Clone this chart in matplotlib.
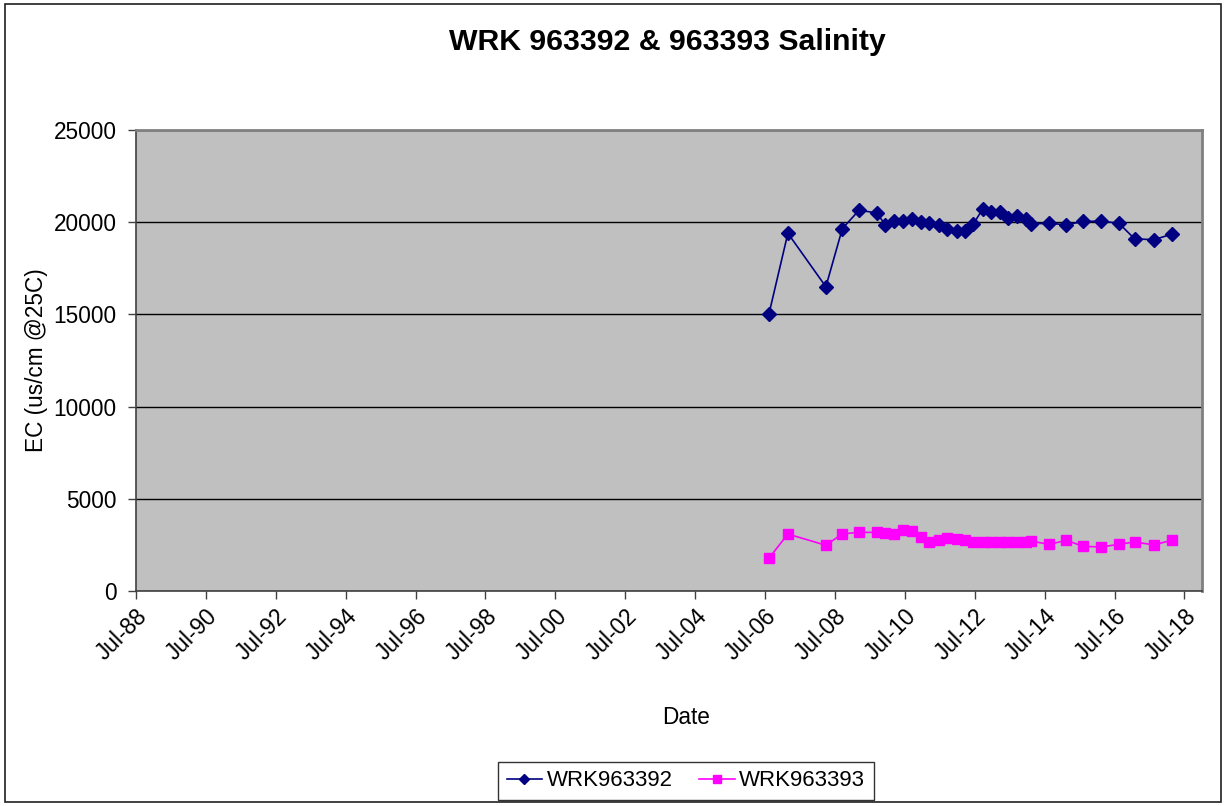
import matplotlib
matplotlib.use('Agg')
import matplotlib.pyplot as plt
import matplotlib.dates as mdates
from matplotlib.patches import Rectangle
import pandas as pd

plt.rcParams['font.family'] = ['Liberation Sans', 'DejaVu Sans']

# sampling dates
dates = ['2006-08-10', '2007-02-25', '2008-03-28', '2008-09-16', '2009-03-10',
         '2009-09-12', '2009-12-10', '2010-03-13', '2010-06-13', '2010-09-16',
         '2010-12-16', '2011-03-13', '2011-06-20', '2011-09-20', '2011-12-24',
         '2012-03-20', '2012-06-16', '2012-09-20', '2012-12-20', '2013-03-20',
         '2013-06-16', '2013-09-12', '2013-12-14', '2014-02-13', '2014-08-21',
         '2015-02-13', '2015-08-10', '2016-02-13', '2016-08-14', '2017-01-26',
         '2017-08-17', '2018-02-17']
wrk963392 = [15000, 19400, 16500, 19650, 20650, 20500, 19850, 20050, 20050, 20150,
             20000, 19950, 19850, 19650, 19500, 19500, 19900, 20700, 20550, 20550,
             20250, 20350, 20150, 19900, 19950, 19850, 20050, 20050, 19950, 19100,
             19050, 19350]
wrk963393 = [1770, 3090, 2480, 3100, 3180, 3180, 3130, 3090, 3290, 3240,
             2910, 2640, 2750, 2870, 2820, 2770, 2640, 2640, 2640, 2640,
             2640, 2640, 2640, 2700, 2530, 2750, 2420, 2390, 2530, 2660,
             2500, 2750]
tick_dates = ['%d-07-01' % y for y in range(1988, 2019, 2)]

x = pd.to_datetime(dates)

fig = plt.figure(figsize=(12.25, 8.06), dpi=100)
ax = fig.add_axes([136/1225, 1-591/806, (1202-136)/1225, (591-130)/806])
ax.set_facecolor('#C0C0C0')

ax.plot(x, wrk963392, color='#000080', marker='D', markersize=6.8, lw=1.2, label='WRK963392', zorder=3)
ax.plot(x, wrk963393, color='#FF00FF', marker='s', markersize=6.7, lw=1.2, label='WRK963393', zorder=3)

ax.set_ylim(0, 25000)
ax.set_yticks(range(0, 25001, 5000))
ax.yaxis.grid(True, color='black', lw=1)
ax.set_axisbelow(True)

ax.set_xlim(pd.Timestamp('1988-07-01'), pd.Timestamp('2019-01-01'))
ax.set_xticks(pd.to_datetime(tick_dates))
ax.xaxis.set_major_formatter(mdates.DateFormatter('%b-%y'))
ax.tick_params(axis='both', direction='out', length=6, width=1, color='#404040', labelsize=16.3)
ax.tick_params(axis='x', pad=4)
ax.tick_params(axis='y', pad=8)
for lbl in ax.get_xticklabels():
    lbl.set_rotation(45)
    lbl.set_ha('right')
    lbl.set_rotation_mode('anchor')

for side in ['left', 'bottom']:
    ax.spines[side].set_color('#404040')
    ax.spines[side].set_linewidth(1.2)
for side in ['top', 'right']:
    ax.spines[side].set_color('#808080')
    ax.spines[side].set_linewidth(2)

ax.set_ylabel('EC (us/cm @25C)', fontsize=16.3, labelpad=4)
fig.text(686/1225, 1-717/806, 'Date', fontsize=16.3, ha='center', va='center')
fig.text(667/1225, 1-42/806, 'WRK 963392 & 963393 Salinity', fontsize=21.8,
         fontweight='bold', ha='center', va='center')

leg = fig.legend(loc='center', bbox_to_anchor=(686/1225, 1-781/806), ncol=2,
                 fontsize=16, frameon=True, fancybox=False, edgecolor='black',
                 handlelength=1.6, columnspacing=1.2, borderpad=0.4, handletextpad=0.2,
                 markerscale=0.8)
leg.get_frame().set_linewidth(1)

fig.patches.append(Rectangle((5/1225, 4/806), 1216/1225, 798/806, transform=fig.transFigure,
                             fill=False, edgecolor='#202020', lw=1.2))

fig.savefig('out.png', dpi=100)
